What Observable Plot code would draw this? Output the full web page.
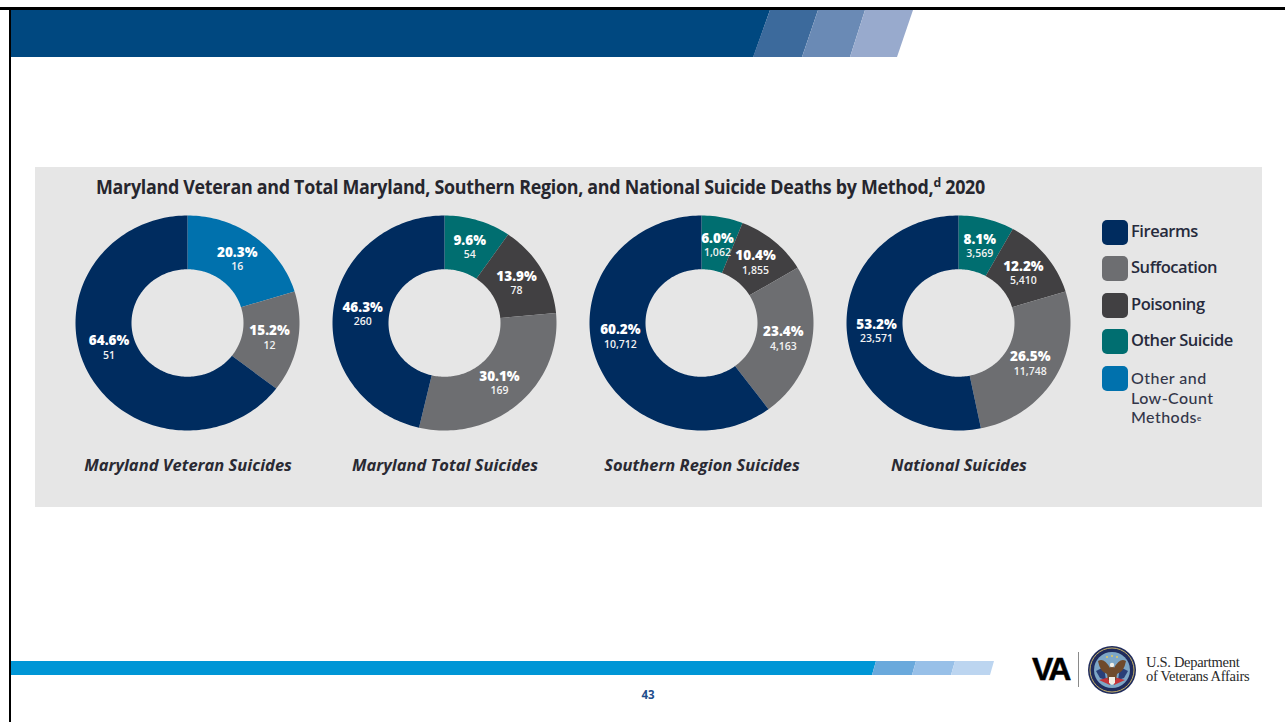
<!DOCTYPE html>
<html><head><meta charset="utf-8">
<script src="https://cdn.jsdelivr.net/npm/d3@7"></script>
<script src="https://cdn.jsdelivr.net/npm/@observablehq/plot@0.6"></script>
<style>
html,body{margin:0;padding:0;background:#fff;width:1285px;height:722px;overflow:hidden}
#page{position:relative;width:1285px;height:722px;overflow:hidden;font-family:"Open Sans",sans-serif}
#page>div,#page>svg{position:absolute}
.seg{height:47px;top:10px}
.low{height:14px;top:661px}
.title{left:96px;top:174px;font-size:19px;font-weight:700;color:#26262e;white-space:nowrap;transform-origin:0 0;transform:scaleX(.94);letter-spacing:-.3px}
.title sup{font-size:13px;line-height:0;font-weight:700}
.sw{left:1102px;width:26px;height:25px;border-radius:5px}
.lg{left:1131px;font-size:16.5px;font-weight:600;color:#262a3c;white-space:nowrap;letter-spacing:-.45px;line-height:20px}
.lg.thin{font-family:Lato,sans-serif;font-size:16px;font-weight:500;color:#33364a;line-height:19.5px;letter-spacing:.45px}
</style></head><body>
<div id="page">
  <div style="left:0;top:7px;width:1285px;height:3px;background:#000"></div>
  <div style="left:9px;top:7px;width:2px;height:715px;background:#000"></div>
  <div class="seg" style="left:11px;width:759px;background:#004880;clip-path:polygon(0 0,100% 0,97.8% 100%,0 100%)"></div>
  <div class="seg" style="left:753px;width:65px;background:#3c6a9c;clip-path:polygon(17px 0,65px 0,49px 100%,0 100%)"></div>
  <div class="seg" style="left:802px;width:63px;background:#6a8ab5;clip-path:polygon(16px 0,63px 0,48px 100%,0 100%)"></div>
  <div class="seg" style="left:850px;width:63px;background:#98aacd;clip-path:polygon(15px 0,63px 0,47px 100%,0 100%)"></div>

  <div style="left:35px;top:167px;width:1227px;height:340px;background:#e6e6e6"></div>
  <div class="title">Maryland Veteran and Total Maryland, Southern Region, and National Suicide Deaths by Method,<sup>d</sup> 2020</div>
  <div id="chart" style="left:59px;top:205px"></div>

  <div class="low" style="left:11px;width:865px;background:#0096d6;clip-path:polygon(0 0,100% 0,calc(100% - 4px) 100%,0 100%)"></div>
  <div class="low" style="left:872px;width:44px;background:#6aa9dc;clip-path:polygon(4px 0,100% 0,calc(100% - 4px) 100%,0 100%)"></div>
  <div class="low" style="left:912px;width:43px;background:#98c0e8;clip-path:polygon(4px 0,100% 0,calc(100% - 4px) 100%,0 100%)"></div>
  <div class="low" style="left:951px;width:43px;background:#bcd5f0;clip-path:polygon(4px 0,100% 0,calc(100% - 4px) 100%,0 100%)"></div>
  <div style="left:628px;top:687px;width:40px;text-align:center;font-size:11.5px;font-weight:700;color:#1f4e8c">43</div>

  <div style="left:1032px;top:649px;font-family:'Liberation Sans',sans-serif;font-size:32px;font-weight:700;color:#000;letter-spacing:-2.8px;line-height:40px;-webkit-text-stroke:.5px #000">VA</div>
  <div style="left:1078px;top:652px;width:1px;height:35px;background:#8a8a8a"></div>
  <svg style="left:1086px;top:644px" width="52" height="52" viewBox="0 0 52 52">
    <circle cx="26" cy="26" r="24" fill="#1f2b5c"/>
    <circle cx="26" cy="26" r="22" fill="none" stroke="#c9b46a" stroke-width="1"/>
    <circle cx="26" cy="26" r="18" fill="#7da6c6"/>
    <path d="M10 27 L18 23 L20 36 L14 34Z" fill="#2a3f78"/>
    <path d="M42 27 L34 23 L32 36 L38 34Z" fill="#2a3f78"/>
    <path d="M13 36 L24 33 L24 41 Z" fill="#c4343a"/><path d="M39 36 L28 33 L28 41 Z" fill="#c4343a"/>
    <path d="M12 17 Q18 13 24 24 L26 20 L28 24 Q34 13 40 17 Q38 28 31 30 L30 36 L22 36 L21 30 Q14 28 12 17Z" fill="#6f4a2c"/>
    <circle cx="26" cy="21" r="2.2" fill="#f2efe6"/>
    <circle cx="21" cy="13" r="1" fill="#e6c85a"/><circle cx="26" cy="12" r="1" fill="#e6c85a"/><circle cx="31" cy="13" r="1" fill="#e6c85a"/>
    <path d="M23 33 L29 33 L29 39 L26 41 L23 39Z" fill="#f2efe6"/>
  </svg>
  <div style="left:1146px;top:656px;font-family:'Liberation Serif',serif;font-size:14.5px;line-height:13.5px;color:#2a2a2a;letter-spacing:-.3px;white-space:nowrap">U.S. Department<br>of Veterans Affairs</div>
</div>
<script>
const chartNames = ["Maryland Veteran Suicides","Maryland Total Suicides","Southern Region Suicides","National Suicides"];

const legendMethods = ["Firearms","Suffocation","Poisoning","Other Suicide","Other and Low-Count Methods"];
const methodColors  = ["#002c5f","#6d6e71","#414042","#006e70","#0071ad"];

const veteranMethods = ["Other and Low-Count Methods","Suffocation","Firearms"];
const veteranCounts  = [16,12,51];
const veteranPercent = ["20.3%","15.2%","64.6%"];

const otherMethods = ["Other Suicide","Poisoning","Suffocation","Firearms"];
const marylandCounts  = [54,78,169,260];
const marylandPercent = ["9.6%","13.9%","30.1%","46.3%"];
const southernCounts  = [1062,1855,4163,10712];
const southernPercent = ["6.0%","10.4%","23.4%","60.2%"];
const nationalCounts  = [3569,5410,11748,23571];
const nationalPercent = ["8.1%","12.2%","26.5%","53.2%"];

const series = [
  [chartNames[0],veteranMethods,veteranCounts,veteranPercent],
  [chartNames[1],otherMethods,marylandCounts,marylandPercent],
  [chartNames[2],otherMethods,southernCounts,southernPercent],
  [chartNames[3],otherMethods,nationalCounts,nationalPercent]
];

const deg = Math.PI / 180, inner = 0.5, labelR = 0.74, step = 1.5 * deg;
const arcs = [], labels = [];
for (const [chart,methods,counts,pcts] of series) {
  const total = d3.sum(counts);
  let cum = 0;
  counts.forEach((c,i) => {
    const a0 = cum/total*2*Math.PI, a1 = (cum+c)/total*2*Math.PI;
    const n = Math.ceil((a1-a0)/step);
    for (let k=0;k<=n;k++){
      const a = a0+(a1-a0)*k/n;
      arcs.push({chart,method:methods[i],x1:Math.sin(a),y1:Math.cos(a),x2:inner*Math.sin(a),y2:inner*Math.cos(a)});
    }
    let m = (a0+a1)/2;
    // large lower-left slices carry their label a little nearer the horizontal
    if (methods[i]==="Firearms" && m < 255*deg) m += 8.5*deg;
    labels.push({chart,x:labelR*Math.sin(m),y:labelR*Math.cos(m),pct:pcts[i],count:d3.format(",")(c)});
    cum += c;
  });
}

// one facet per donut; ring stretched as in the picture (wider than tall)
const facetW = 257, rx = 112, ry = 107.5, H = 280, cy = 118;
const plot = Plot.plot({
  width: facetW*4, height: H,
  marginLeft:0, marginRight:0, marginTop:0, marginBottom:0,
  fx:{domain:chartNames,axis:null,padding:0},
  x:{domain:[-facetW/2/rx,facetW/2/rx],axis:null},
  y:{domain:[-(H-cy)/ry,cy/ry],axis:null},
  color:{domain:legendMethods,range:methodColors},
  style:{background:"transparent",fontFamily:"'Open Sans',sans-serif",overflow:"visible"},
  marks:[
    Plot.area(arcs,{fx:"chart",x1:"x1",y1:"y1",x2:"x2",y2:"y2",fill:"method",z:"method"}),
    Plot.text(labels,{fx:"chart",x:"x",y:"y",text:"pct",dy:-7,fill:"#fff",fontSize:13.5,fontWeight:800}),
    Plot.text(labels,{fx:"chart",x:"x",y:"y",text:"count",dy:7.5,fill:"#f2f2f2",fontSize:10.5,fontWeight:600,letterSpacing:"-0.3px"}),
    Plot.text(chartNames,{fx:d=>d,text:d=>d,frameAnchor:"bottom",dy:-15,fill:"#2a2a33",fontSize:16.5,fontWeight:700,fontStyle:"italic",letterSpacing:"-0.4px"})
  ]
});
document.getElementById("chart").appendChild(plot);

// legend built from the method arrays
const lg = document.getElementById("page");
const swatchTops = [220,256,293,329,366];
legendMethods.forEach((m,i)=>{
  const s=document.createElement("div");s.className="sw";s.style.top=swatchTops[i]+"px";s.style.background=methodColors[i];lg.appendChild(s);
  const t=document.createElement("div");t.className="lg";
  if(i<4){t.textContent=m;t.style.top=(swatchTops[i]+0.5)+"px";}
  else{t.className="lg thin";t.innerHTML='Other and<br>Low-Count<br>Methods<span style="font-size:8px;vertical-align:2px;letter-spacing:0">e</span>';t.style.top="368px";}
  lg.appendChild(t);
});
</script>
</body></html>
